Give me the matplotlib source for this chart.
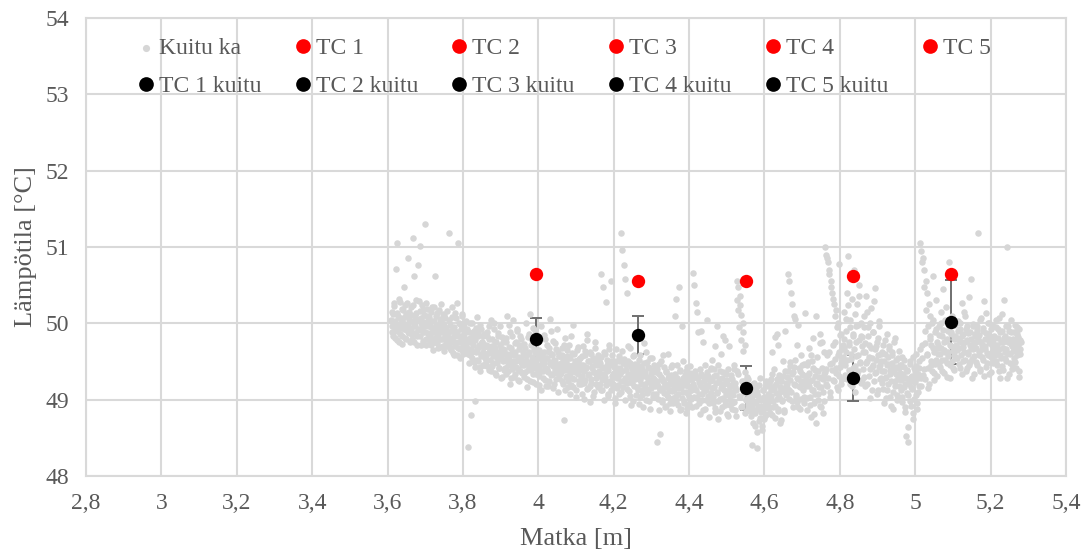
import numpy as np
import matplotlib.pyplot as plt
from matplotlib.ticker import FuncFormatter

plt.rcParams["font.family"] = ["Liberation Serif", "DejaVu Serif"]

# Kuitu ka: fibre average along the line, two interleaved sample sets
# (even and odd millimetres). Values are hundredths of a degree above 48 °C.
kuitu_a_start, kuitu_a_end = 3.610, 5.280
kuitu_a_cdeg = [
    205, 188, 212, 196, 223, 181, 199, 305, 214, 190, 176, 207, 228, 195, 183, 218, 201, 248, 192, 210, 179, 226, 199, 187, 215,
    194, 221, 186, 203, 312, 175, 209, 197, 231, 183, 205, 277, 192, 216, 171, 200, 224, 188, 211, 330, 196, 180, 219, 203, 187,
    208, 182, 195, 171, 221, 189, 203, 176, 262, 197, 184, 213, 168, 192, 206, 179, 225, 188, 170, 199, 211, 183, 194, 174, 216,
    187, 318, 172, 198, 165, 208, 181, 193, 159, 214, 176, 189, 226, 168, 184, 201, 155, 192, 177, 210, 163, 186, 199, 171, 180,
    168, 192, 38, 176, 158, 201, 80, 163, 185, 149, 178, 98, 194, 166, 152, 187, 171, 143, 198, 160, 175, 146, 183, 169, 155,
    172, 150, 188, 161, 139, 179, 166, 205, 144, 170, 157, 192, 135, 176, 163, 148, 184, 158, 141, 197, 167, 153, 130, 175, 160,
    165, 142, 181, 155, 210, 137, 169, 150, 188, 128, 162, 146, 204, 158, 133, 175, 151, 193, 140, 167, 125, 184, 156, 145, 171,
    149, 173, 136, 201, 158, 127, 182, 145, 163, 212, 139, 152, 178, 123, 166, 147, 191, 133, 160, 142, 176, 119, 155, 197, 138,
    161, 137, 148, 185, 126, 154, 171, 140, 118, 163, 149, 206, 132, 158, 144, 177, 121, 151, 166, 135, 192, 145, 128, 157, 139,
    142, 168, 124, 153, 73, 139, 181, 130, 157, 116, 146, 172, 135, 119, 161, 143, 198, 127, 150, 138, 112, 165, 133, 148, 121,
    155, 129, 146, 108, 170, 137, 122, 159, 141, 114, 186, 132, 150, 118, 163, 127, 144, 105, 152, 136, 175, 120, 147, 131, 158,
    138, 151, 120, 265, 143, 112, 247, 134, 160, 126, 228, 145, 108, 139, 171, 122, 150, 255, 131, 116, 147, 135, 102, 166, 128,
    142, 119, 157, 133, 110, 318, 296, 148, 277, 125, 258, 139, 240, 114, 151, 130, 168, 105, 144, 122, 136, 98, 159, 127, 141,
    129, 145, 112, 137, 94, 158, 121, 140, 106, 131, 174, 117, 136, 100, 149, 125, 113, 142, 88, 133, 120, 155, 108, 127, 139,
    118, 136, 45, 123, 101, 147, 114, 55, 130, 97, 125, 158, 109, 120, 92, 138, 116, 104, 131, 85, 122, 143, 111, 96, 127,
    121, 210, 105, 232, 129, 93, 247, 115, 137, 88, 124, 196, 110, 98, 132, 119, 82, 143, 107, 126, 94, 135, 113, 101, 129,
    266, 117, 250, 134, 226, 102, 215, 128, 95, 140, 119, 190, 108, 131, 86, 124, 146, 112, 99, 136, 118, 77, 129, 105, 142,
    115, 152, 96, 131, 170, 84, 122, 109, 145, 74, 127, 101, 160, 118, 90, 136, 112, 178, 98, 125, 81, 140, 106, 119, 93,
    110, 132, 88, 121, 145, 97, 116, 79, 138, 255, 248, 105, 236, 224, 211, 92, 200, 188, 124, 172, 101, 85, 130, 94, 113,
    92, 110, 78, 103, 40, 121, 86, 97, 66, 115, 36, 90, 105, 72, 128, 84, 99, 60, 112, 89, 75, 101, 118, 81, 95,
    96, 118, 83, 127, 105, 162, 91, 114, 140, 76, 120, 101, 186, 88, 132, 110, 69, 125, 98, 150, 115, 84, 137, 106, 122,
    130, 265, 112, 255, 144, 240, 98, 225, 136, 210, 119, 152, 104, 171, 127, 90, 141, 116, 158, 101, 133, 122, 95, 147, 125,
    118, 145, 86, 132, 168, 104, 124, 77, 150, 113, 181, 96, 139, 120, 70, 156, 108, 130, 92, 174, 116, 141, 83, 127, 162,
    300, 140, 290, 118, 280, 162, 270, 104, 255, 148, 240, 126, 225, 176, 210, 135, 195, 112, 158, 278, 143, 186, 121, 166, 150,
    168, 215, 132, 190, 240, 152, 288, 176, 120, 205, 160, 232, 141, 184, 270, 110, 196, 157, 225, 138, 178, 250, 148, 200, 126,
    182, 140, 210, 163, 118, 236, 150, 195, 131, 172, 102, 220, 155, 143, 188, 125, 167, 246, 136, 176, 112, 159, 203, 145, 128,
    150, 122, 171, 138, 95, 160, 130, 186, 112, 147, 166, 104, 139, 124, 158, 88, 143, 176, 118, 133, 152, 99, 127, 164, 141,
    135, 112, 156, 97, 128, 143, 84, 120, 52, 138, 106, 45, 125, 150, 92, 116, 131, 75, 142, 101, 123, 160, 88, 134, 110,
    150, 305, 128, 295, 172, 285, 140, 270, 190, 255, 158, 240, 115, 225, 180, 210, 145, 200, 168, 262, 135, 188, 152, 230, 176,
    172, 148, 196, 160, 215, 138, 183, 245, 165, 152, 204, 177, 130, 190, 162, 280, 145, 186, 170, 210, 141, 179, 158, 198, 166,
    181, 155, 203, 168, 142, 192, 175, 226, 150, 186, 163, 210, 137, 178, 196, 160, 145, 188, 171, 258, 153, 199, 166, 134, 184,
    176, 149, 197, 318, 163, 185, 140, 207, 172, 156, 190, 131, 180, 167, 214, 148, 186, 159, 201, 174, 136, 192, 162, 178, 151,
    183, 158, 204, 171, 145, 193, 166, 128, 188, 155, 212, 175, 139, 181, 162, 196, 150, 300, 176, 133, 190, 160, 205, 170, 147,
    179, 154, 198, 165, 141, 186, 172, 130, 193, 160, 176,
]
kuitu_b_start, kuitu_b_end = 3.611, 5.279
kuitu_b_cdeg = [
    197, 215, 184, 226, 203, 190, 271, 178, 209, 194, 232, 186, 201, 219, 173, 207, 192, 224, 181, 212, 198, 286, 189, 205, 176,
    211, 193, 180, 224, 199, 262, 187, 214, 172, 205, 191, 229, 183, 301, 207, 195, 218, 177, 202, 189, 226, 171, 210, 196, 184,
    199, 176, 215, 188, 203, 165, 222, 192, 181, 209, 174, 197, 186, 218, 169, 203, 191, 180, 212, 164, 196, 207, 178, 189, 170,
    181, 204, 168, 190, 176, 222, 161, 195, 183, 170, 207, 158, 188, 305, 175, 199, 166, 184, 212, 172, 160, 193, 179, 203, 164,
    176, 160, 189, 148, 181, 167, 200, 155, 172, 190, 143, 178, 163, 208, 151, 184, 169, 138, 193, 157, 175, 162, 146, 186, 170,
    158, 183, 144, 170, 196, 152, 165, 137, 179, 161, 148, 201, 168, 132, 175, 155, 187, 142, 171, 160, 128, 182, 150, 166, 139,
    152, 176, 133, 160, 145, 198, 157, 121, 168, 140, 183, 151, 130, 174, 162, 143, 190, 126, 156, 171, 138, 149, 179, 135, 163,
    145, 130, 168, 152, 117, 160, 139, 186, 148, 125, 171, 156, 134, 194, 143, 162, 120, 153, 140, 178, 131, 165, 146, 112, 157,
    150, 128, 163, 141, 179, 118, 155, 136, 168, 124, 147, 190, 133, 160, 115, 152, 139, 174, 127, 145, 162, 110, 157, 134, 148,
    135, 158, 120, 146, 172, 112, 151, 131, 165, 124, 140, 107, 155, 183, 128, 145, 117, 160, 136, 150, 103, 141, 169, 125, 153,
    139, 120, 157, 131, 146, 101, 164, 126, 143, 178, 115, 150, 134, 97, 160, 122, 141, 155, 110, 136, 168, 128, 145, 117, 152,
    134, 148, 113, 156, 127, 141, 99, 162, 130, 119, 152, 138, 105, 166, 124, 146, 112, 158, 133, 121, 143, 96, 151, 137, 115,
    131, 150, 108, 142, 124, 164, 137, 116, 153, 129, 100, 145, 122, 170, 134, 111, 148, 126, 93, 140, 157, 118, 132, 147, 106,
    138, 116, 131, 152, 103, 126, 144, 112, 135, 91, 148, 121, 163, 109, 130, 143, 98, 124, 154, 115, 137, 104, 128, 146, 119,
    125, 108, 140, 118, 87, 133, 112, 150, 99, 127, 115, 143, 90, 121, 136, 106, 129, 160, 113, 95, 132, 120, 145, 102, 117,
    113, 134, 98, 125, 146, 107, 120, 86, 139, 116, 102, 129, 151, 95, 123, 110, 137, 89, 118, 131, 104, 144, 112, 91, 127,
    120, 104, 137, 113, 92, 128, 188, 108, 123, 81, 134, 116, 100, 176, 111, 127, 88, 119, 205, 105, 131, 96, 124, 140, 109,
    126, 103, 140, 117, 89, 132, 110, 196, 98, 123, 137, 85, 115, 129, 102, 183, 120, 93, 134, 108, 126, 78, 170, 113, 99,
    118, 95, 127, 106, 140, 87, 122, 112, 231, 218, 133, 195, 103, 178, 91, 125, 164, 109, 82, 136, 100, 118, 89, 127, 104,
    100, 85, 114, 93, 70, 107, 122, 82, 96, 58, 110, 88, 119, 76, 101, 92, 65, 113, 86, 104, 79, 98, 124, 90, 108,
    104, 89, 125, 112, 80, 133, 98, 118, 182, 92, 109, 127, 85, 171, 103, 116, 73, 124, 99, 131, 111, 87, 190, 107, 120,
    115, 138, 101, 126, 149, 110, 133, 91, 143, 120, 206, 106, 128, 97, 198, 118, 137, 88, 125, 145, 112, 132, 103, 214, 121,
    127, 102, 149, 118, 135, 93, 158, 113, 126, 142, 81, 131, 108, 210, 122, 99, 137, 117, 186, 90, 128, 175, 110, 134, 98,
    136, 120, 158, 285, 129, 265, 147, 110, 248, 139, 171, 232, 124, 153, 218, 141, 116, 200, 162, 131, 185, 148, 127, 172, 156,
    180, 145, 206, 162, 127, 224, 171, 139, 195, 153, 260, 118, 186, 167, 212, 144, 175, 133, 198, 158, 236, 149, 183, 122, 170,
    162, 195, 130, 174, 148, 215, 121, 183, 156, 140, 201, 168, 113, 188, 146, 229, 135, 170, 152, 108, 181, 143, 196, 127, 160,
    138, 163, 114, 150, 129, 178, 102, 145, 156, 120, 170, 133, 92, 148, 162, 110, 137, 125, 181, 143, 106, 155, 131, 118, 146,
    126, 145, 103, 133, 117, 152, 91, 128, 109, 139, 64, 121, 147, 98, 130, 114, 156, 82, 125, 137, 106, 144, 95, 129, 118,
    142, 166, 118, 280, 155, 132, 248, 174, 127, 218, 160, 142, 197, 121, 183, 150, 171, 138, 205, 126, 162, 147, 193, 131, 168,
    160, 185, 143, 201, 168, 152, 191, 135, 176, 162, 222, 148, 180, 157, 195, 128, 171, 189, 150, 206, 164, 139, 183, 172, 155,
    165, 190, 147, 178, 200, 158, 133, 184, 169, 215, 152, 176, 193, 141, 187, 162, 235, 149, 180, 168, 128, 196, 157, 174, 186,
    168, 191, 145, 180, 159, 205, 138, 175, 166, 194, 152, 229, 170, 143, 187, 161, 200, 177, 134, 183, 156, 171, 197, 148, 165,
    172, 150, 195, 163, 181, 138, 207, 158, 176, 190, 144, 168, 231, 155, 184, 166, 129, 197, 161, 179, 148, 188, 173, 140, 164,
    170, 188, 149, 176, 195, 158, 182, 137, 166, 178,
]

# thermocouples and the fibre reading at the same spot
tc_labels = ["TC 1", "TC 2", "TC 3", "TC 4", "TC 5"]
tc_x = [3.995, 4.265, 4.55, 4.835, 5.095]
tc_temp = [50.65, 50.56, 50.56, 50.62, 50.65]
tc_kuitu_temp = [49.80, 49.85, 49.15, 49.28, 50.02]
tc_kuitu_err = [0.27, 0.25, 0.29, 0.30, 0.55]

kuitu_x = np.concatenate([
    np.linspace(kuitu_a_start, kuitu_a_end, len(kuitu_a_cdeg)),
    np.linspace(kuitu_b_start, kuitu_b_end, len(kuitu_b_cdeg)),
])
kuitu_y = 48 + np.array(kuitu_a_cdeg + kuitu_b_cdeg) / 100

text_col = "#595959"
grid_col = "#d9d9d9"

fig = plt.figure(figsize=(10.85, 5.58), dpi=100)
ax = fig.add_axes([0.0793, 0.147, 0.9032, 0.8207])

ax.errorbar(tc_x, tc_kuitu_temp, yerr=tc_kuitu_err, fmt="none",
            ecolor="#6f6f6f", elinewidth=1.4, capsize=4, capthick=1.4, zorder=2)
h_kuitu = ax.scatter(kuitu_x, kuitu_y, s=22, color="#d6d6d6", linewidths=0, zorder=3)

h_tc = []
h_tck = []
for i in range(len(tc_x)):
    h, = ax.plot(tc_x[i], tc_temp[i], "o", color="#ff0000", ms=9.6, mec="none", zorder=4)
    h_tc.append(h)
for i in range(len(tc_x)):
    h, = ax.plot(tc_x[i], tc_kuitu_temp[i], "o", color="black", ms=9.6, mec="none", zorder=5)
    h_tck.append(h)

ax.set_xlim(2.8, 5.4)
ax.set_ylim(48, 54)
ax.set_xticks(np.arange(2.8, 5.41, 0.2))
ax.set_yticks(range(48, 55))
ax.xaxis.set_major_formatter(FuncFormatter(lambda v, p: f"{v:.1f}".rstrip("0").rstrip(".").replace(".", ",")))
ax.grid(True, color=grid_col, lw=1.5)
ax.set_axisbelow(True)
for s in ax.spines.values():
    s.set_color(grid_col)
    s.set_linewidth(1.5)
ax.tick_params(length=0, labelsize=17, colors=text_col)
ax.tick_params(axis="y", pad=12)
ax.tick_params(axis="x", pad=12)

ax.set_xlabel("Matka [m]", fontsize=19, color=text_col, labelpad=10)
ax.set_ylabel("Lämpötila [°C]", fontsize=19, color=text_col, labelpad=6)

# legend columns hold (TC n, TC n+1 kuitu) so the rows read
# "Kuitu ka, TC 1..TC 5" and "TC 1 kuitu..TC 5 kuitu"
leg_h = [h_kuitu, h_tck[0]]
leg_l = ["Kuitu ka", "TC 1 kuitu"]
for i in range(4):
    leg_h += [h_tc[i], h_tck[i + 1]]
    leg_l += [tc_labels[i], tc_labels[i + 1] + " kuitu"]
leg_h.append(h_tc[4])
leg_l.append(tc_labels[4])

leg = ax.legend(leg_h, leg_l, ncol=6, loc="upper left",
                bbox_to_anchor=(0.128, 0.932), bbox_transform=fig.transFigure,
                frameon=False, fontsize=17, handlelength=0.6, handletextpad=0.25,
                columnspacing=1.45, labelspacing=0.68, borderpad=0, borderaxespad=0,
                markerscale=1.1, scatterpoints=1)
for t in leg.get_texts():
    t.set_color(text_col)

fig.savefig("out.png", dpi=100)
